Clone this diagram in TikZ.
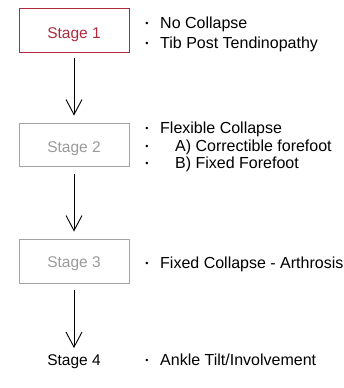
\documentclass[tikz,border=0pt]{standalone}
\usepackage{fontspec}
\setmainfont{Liberation Sans}
\usetikzlibrary{arrows.meta}
\definecolor{stred}{HTML}{B02A3E}
\definecolor{stgray}{HTML}{A3A3A3}
\definecolor{sttext}{HTML}{9A9A9A}
\tikzset{
  stagebox/.style={draw=stgray, line width=1pt, minimum width=110pt, inner sep=0pt},
  stagetext/.style={anchor=base, inner sep=0pt, text=sttext, font=\fontsize{15.5}{18}\selectfont},
  flowarrow/.style={line width=0.9pt, -{Straight Barb[length=15pt,width=16pt,line width=0.9pt]}},
  item/.style={anchor=base west, inner sep=0pt, font=\fontsize{16}{19}\selectfont},
  bul/.style={anchor=base, inner sep=0pt, font=\fontsize{9}{10}\selectfont}
}
\begin{document}
\begin{tikzpicture}[x=1pt,y=-1pt]
\useasboundingbox (0,0) rectangle (343,388);
\node[stagebox, draw=stred, minimum height=44pt] (s1) at (74,30) {};
\node[stagebox, minimum height=43pt] (s2) at (74,144.5) {};
\node[stagebox, minimum height=44pt] (s3) at (74,261) {};
\node[stagetext, text=stred] (l1) at (74,38.5) {Stage 1};
\node[stagetext] (l2) at (74,152) {Stage 2};
\node[stagetext] (l3) at (74,267.5) {Stage 3};
\node[stagetext, text=black] (s4) at (74,365) {Stage 4};
\coordinate (a3e) at (74,348);
\draw[flowarrow, shorten <=5pt, shorten >=7pt] (s1.south) -- (s2.north);
\draw[flowarrow, shorten <=7pt, shorten >=7pt] (s2.south) -- (s3.north);
\draw[flowarrow, shorten <=6pt] (s3.south) -- (a3e);
% block 1
\node[bul] (b11) at (147,26) {•};
\node[item] (t11) at (160,28) {No Collapse};
\node[bul] (b12) at (147,46) {•};
\node[item] (t12) at (160,48) {Tib Post Tendinopathy};
% block 2
\node[bul] (b21) at (147,131) {•};
\node[item] (t21) at (160,133) {Flexible Collapse};
\node[bul] (b22) at (147,149) {•};
\node[item] (t22) at (175,151) {A) Correctible forefoot};
\node[bul] (b23) at (147,166) {•};
\node[item] (t23) at (175,168) {B) Fixed Forefoot};
% block 3
\node[bul] (b31) at (147,266) {•};
\node[item] (t31) at (160,268) {Fixed Collapse - Arthrosis};
% block 4
\node[bul] (b41) at (147,363) {•};
\node[item] (t41) at (160,365) {Ankle Tilt/Involvement};
\end{tikzpicture}
\end{document}
